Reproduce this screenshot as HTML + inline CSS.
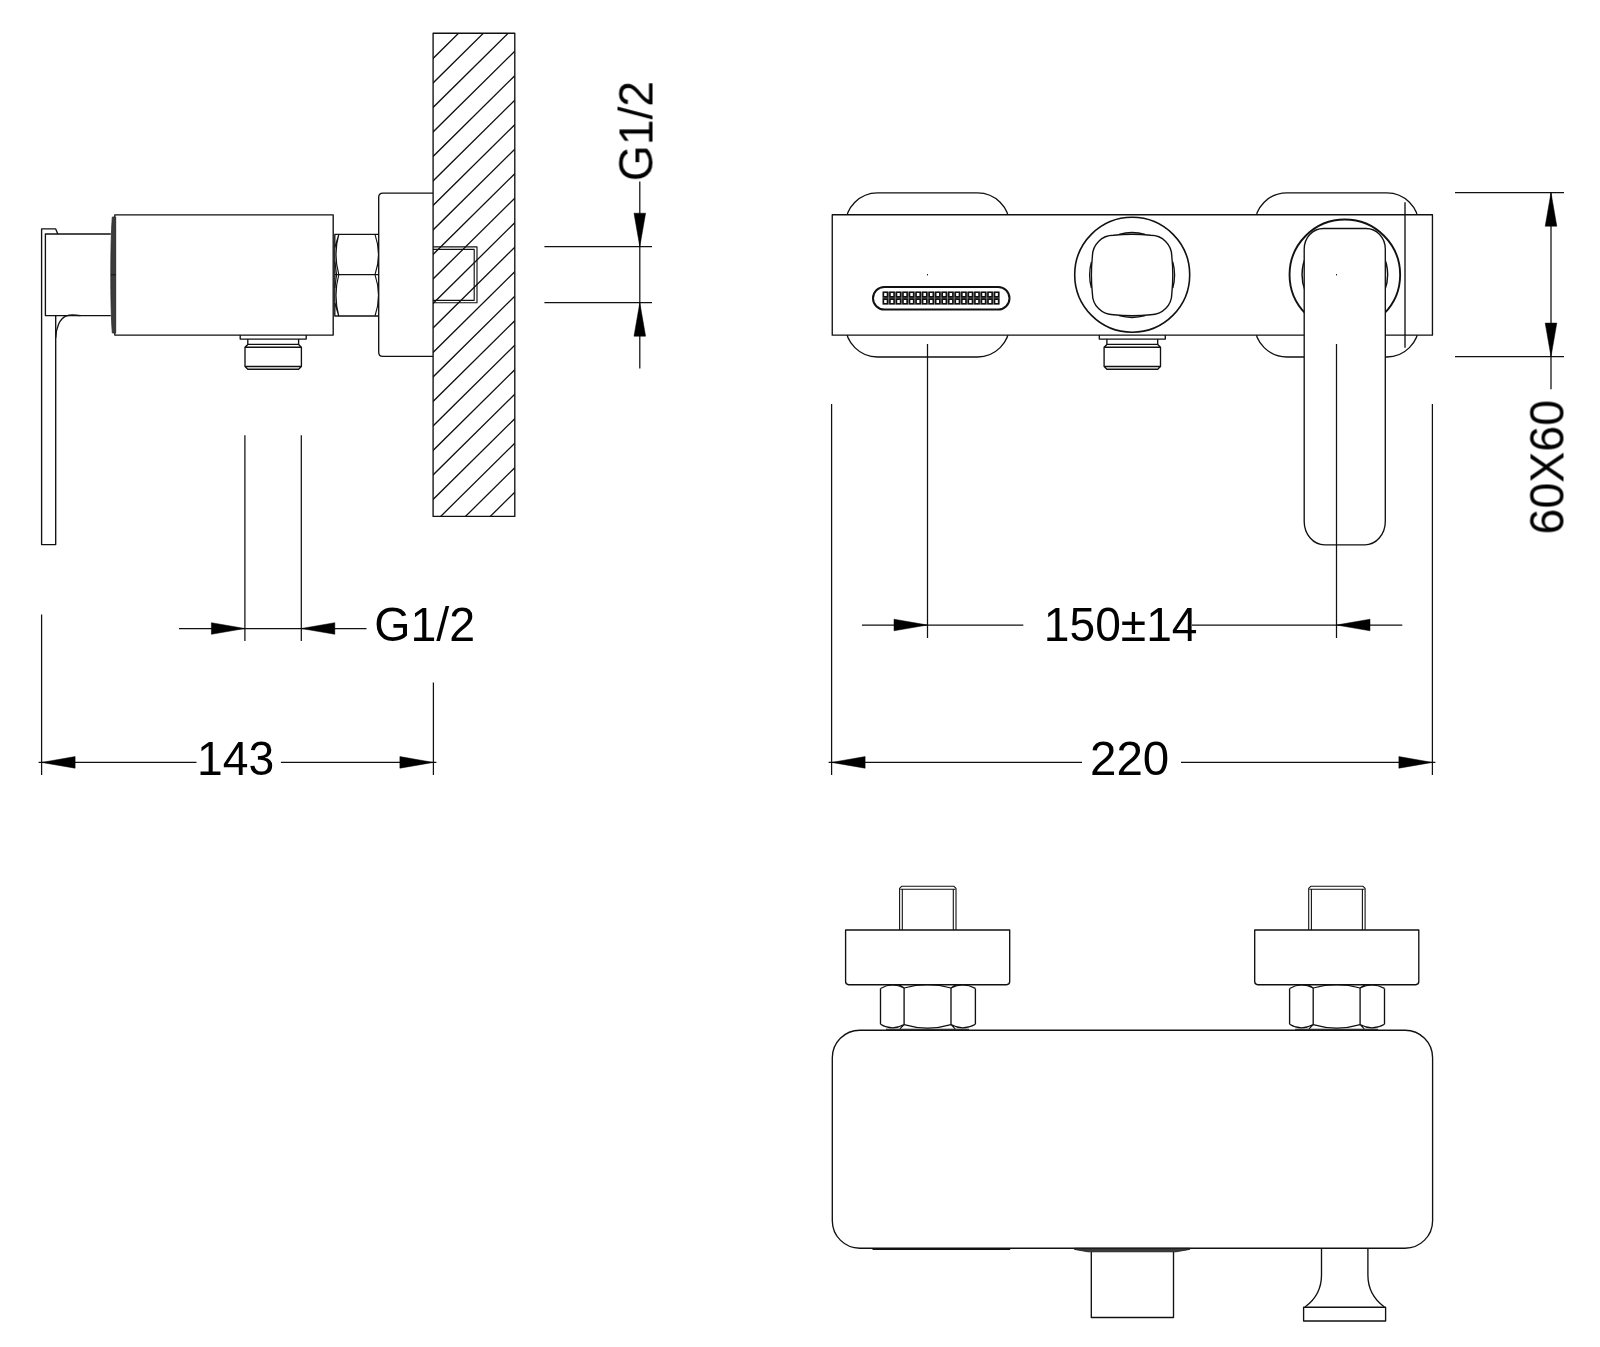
<!DOCTYPE html>
<html lang="en">
<head>
<meta charset="utf-8">
<title>Shower mixer - dimensional drawing</title>
<style>
html,body{margin:0;padding:0;background:#fff;}
body{width:1600px;height:1347px;overflow:hidden;font-family:"Liberation Sans",sans-serif;}
svg{display:block;}
.o{fill:none;stroke:#111;stroke-width:1.35;stroke-linejoin:round;stroke-linecap:butt;}
.o .t{stroke-width:1.15;}
.h{fill:none;stroke:#111;stroke-width:1.3;}
.d{fill:none;stroke:#111;stroke-width:1.25;}
.d .f{fill:#000;stroke:#000;stroke-width:0.5;stroke-linejoin:miter;}
.tx{opacity:0.999;}
.tx text{font-family:"Liberation Sans",sans-serif;font-size:48px;fill:#000;}
</style>
</head>
<body>
<svg width="1600" height="1347" viewBox="0 0 1600 1347">
<defs><clipPath id="wallclip"><rect x="433.1" y="33.2" width="81.70" height="483.20"/></clipPath></defs>
<rect x="0" y="0" width="1600" height="1347" fill="#fff"/>
<!-- side view -->
<g class="o">
<rect x="433.1" y="33.2" width="81.70" height="483.20"/>
</g>
<g class="h" clip-path="url(#wallclip)">
<path d="M431.10,60.38 L516.80,-24.30 M431.10,84.88 L516.80,0.20 M431.10,109.38 L516.80,24.70 M431.10,133.88 L516.80,49.20 M431.10,158.38 L516.80,73.70 M431.10,182.88 L516.80,98.20 M431.10,207.38 L516.80,122.70 M431.10,231.88 L516.80,147.20 M431.10,256.38 L516.80,171.70 M431.10,280.88 L516.80,196.20 M431.10,305.38 L516.80,220.70 M431.10,329.88 L516.80,245.20 M431.10,354.38 L516.80,269.70 M431.10,378.88 L516.80,294.20 M431.10,403.38 L516.80,318.70 M431.10,427.88 L516.80,343.20 M431.10,452.38 L516.80,367.70 M431.10,476.88 L516.80,392.20 M431.10,501.38 L516.80,416.70 M431.10,525.88 L516.80,441.20 M431.10,550.38 L516.80,465.70 M431.10,574.88 L516.80,490.20"/>
</g>
<g class="o">
<path class="t" d="M433.1,246.8 H477 V302.7 H433.1 M433.1,249.3 H474.2 V300.3 H433.1"/>
<path d="M433.1,193.1 H382.9 Q378.7,193.1 378.7,197.3 V352.2 Q378.7,356.4 382.9,356.4 H433.1"/>
<path d="M378.6,234.4 H334.8 V316 H378.6 M334.8,274.6 H378.6"/>
<path class="t" d="M338.8,234.4 Q333.2,254.5 338.8,274.6 Q333.2,295.3 338.8,316 M375,234.4 Q382,254.5 375,274.6 Q382,295.3 375,316 M338.8,234.4 L334.8,247.5 M338.8,316 L334.8,303 M334.8,261.5 L336.6,274.6 L334.8,288"/>
<rect x="114.8" y="214.85" width="218.4" height="120.2" fill="#fff"/>
<path d="M112.3,217 L115.7,217 L115.7,333 L112.3,333 C111.2,318 110.8,298 110.8,275 C110.8,252 111.2,232 112.3,217 Z" fill="#3c3c3c" stroke="#2a2a2a" stroke-width="0.8"/>
<path d="M110.9,274.8 H115.7" stroke-width="1"/>
<path d="M110.8,234 H45.4 V315.6 H110.8"/>
<path d="M57.8,234 L55.6,228.8 H41.6 V544.6 H55.7 V315.6"/>
<path d="M55.7,338 C56,328 59.5,318.5 66.3,315.8 C71,314.4 76,315 80.5,315.7"/>
<path d="M240.20,334.90 V339.10 H306.20 V334.90"/>
<path d="M247.80,339.10 V344.40 M298.60,339.10 V344.40"/>
<path d="M247.80,344.40 H298.60 L301.40,347.20 V366.50 L298.60,369.20 H247.80 L245.00,366.50 V347.20 Z M245.00,347.20 H301.40 M245.00,366.50 H301.40"/>
</g>
<g class="d">
<path d="M544.4,246.7 H652 M544.4,302.7 H652 M639.8,181.5 V368.6"/>
<path class="f" d="M639.80,246.70 L634.00,213.20 L645.60,213.20 Z"/>
<path class="f" d="M639.80,302.70 L645.60,336.20 L634.00,336.20 Z"/>
<path d="M244.9,435.2 V641 M301.3,435.2 V641 M179,628.5 H366.5"/>
<path class="f" d="M244.90,628.50 L211.40,634.30 L211.40,622.70 Z"/>
<path class="f" d="M301.30,628.50 L334.80,622.70 L334.80,634.30 Z"/>
<path d="M41.6,614.4 V775 M433.4,682.5 V775 M38.6,762.4 H196.5 M280.9,762.4 H436.4"/>
<path class="f" d="M41.60,762.40 L75.10,756.60 L75.10,768.20 Z"/>
<path class="f" d="M433.40,762.40 L399.90,768.20 L399.90,756.60 Z"/>
</g>
<!-- front view -->
<g class="o">
<rect x="845.5" y="192.8" width="164" height="164.2" rx="32" ry="32"/>
<rect x="1254.8" y="192.8" width="164" height="164.2" rx="32" ry="32"/>
<rect x="832.25" y="214.75" width="600.2" height="120.4" fill="#fff"/>
<path d="M1405,202.2 V347.8"/>
<rect x="873" y="287" width="136.5" height="22.6" rx="11.3" ry="11.3" stroke-width="2"/>
<rect x="882.6" y="291.7" width="117.1" height="12.9" fill="#8c8c8c" stroke="none"/>
<path d="M883.40,292.30 h4.1 v4.6 h-4.1 Z M889.94,292.30 h4.1 v4.6 h-4.1 Z M896.48,292.30 h4.1 v4.6 h-4.1 Z M903.01,292.30 h4.1 v4.6 h-4.1 Z M909.55,292.30 h4.1 v4.6 h-4.1 Z M916.09,292.30 h4.1 v4.6 h-4.1 Z M922.63,292.30 h4.1 v4.6 h-4.1 Z M929.17,292.30 h4.1 v4.6 h-4.1 Z M935.70,292.30 h4.1 v4.6 h-4.1 Z M942.24,292.30 h4.1 v4.6 h-4.1 Z M948.78,292.30 h4.1 v4.6 h-4.1 Z M955.32,292.30 h4.1 v4.6 h-4.1 Z M961.86,292.30 h4.1 v4.6 h-4.1 Z M968.39,292.30 h4.1 v4.6 h-4.1 Z M974.93,292.30 h4.1 v4.6 h-4.1 Z M981.47,292.30 h4.1 v4.6 h-4.1 Z M988.01,292.30 h4.1 v4.6 h-4.1 Z M994.55,292.30 h4.1 v4.6 h-4.1 Z M883.40,299.15 h4.1 v4.6 h-4.1 Z M889.94,299.15 h4.1 v4.6 h-4.1 Z M896.48,299.15 h4.1 v4.6 h-4.1 Z M903.01,299.15 h4.1 v4.6 h-4.1 Z M909.55,299.15 h4.1 v4.6 h-4.1 Z M916.09,299.15 h4.1 v4.6 h-4.1 Z M922.63,299.15 h4.1 v4.6 h-4.1 Z M929.17,299.15 h4.1 v4.6 h-4.1 Z M935.70,299.15 h4.1 v4.6 h-4.1 Z M942.24,299.15 h4.1 v4.6 h-4.1 Z M948.78,299.15 h4.1 v4.6 h-4.1 Z M955.32,299.15 h4.1 v4.6 h-4.1 Z M961.86,299.15 h4.1 v4.6 h-4.1 Z M968.39,299.15 h4.1 v4.6 h-4.1 Z M974.93,299.15 h4.1 v4.6 h-4.1 Z M981.47,299.15 h4.1 v4.6 h-4.1 Z M988.01,299.15 h4.1 v4.6 h-4.1 Z M994.55,299.15 h4.1 v4.6 h-4.1 Z" fill="#fff" stroke="#111" stroke-width="1.6" stroke-linejoin="miter"/>
<circle cx="1132.2" cy="274.75" r="57.5" stroke-width="1.6"/>
<path d="M1113.40,235.30 Q1132.10,233.30 1150.80,235.30 A21.0,21.0 0 0 1 1171.80,256.30 Q1173.80,275.00 1171.80,293.70 A21.0,21.0 0 0 1 1150.80,314.70 Q1132.10,316.70 1113.40,314.70 A21.0,21.0 0 0 1 1092.40,293.70 Q1090.40,275.00 1092.40,256.30 A21.0,21.0 0 0 1 1113.40,235.30 Z" stroke-width="1.4"/>
<path stroke-width="1.3" d="M1119.1,234.3 Q1132.1,230.7 1145.1,234.3 M1119.1,315.7 Q1132.1,319.3 1145.1,315.7 M1091.3999999999999,262.0 Q1087.8,275.0 1091.3999999999999,288.0 M1172.8,262.0 Q1176.3999999999999,275.0 1172.8,288.0"/>
<path d="M1099.30,334.90 V339.10 H1165.30 V334.90"/>
<path d="M1106.90,339.10 V344.40 M1157.70,339.10 V344.40"/>
<path d="M1106.90,344.40 H1157.70 L1160.50,347.20 V366.50 L1157.70,369.20 H1106.90 L1104.10,366.50 V347.20 Z M1104.10,347.20 H1160.50 M1104.10,366.50 H1160.50"/>
<circle cx="1344.85" cy="274.85" r="55.3" stroke-width="1.9"/>
<circle cx="1344.85" cy="274.85" r="42.8" stroke-width="1.5"/>
<path d="M1323.4,228.5 H1366.1 A19.2,20.5 0 0 1 1385.3,249 V521.5 A20.5,23.3 0 0 1 1364.8,544.8 H1324.7 A20.5,23.3 0 0 1 1304.2,521.5 V249 A19.2,20.5 0 0 1 1323.4,228.5 Z" fill="#fff"/>
<path d="M927.5,274.1 V275.4 M1336.5,274.1 V275.4" stroke-width="1"/>
</g>
<g class="d">
<path d="M927.5,344 V638 M1336.5,344 V638 M862,625 H1023.3 M1192,625 H1402.3"/>
<path class="f" d="M927.50,625.00 L894.00,630.80 L894.00,619.20 Z"/>
<path class="f" d="M1336.50,625.00 L1370.00,619.20 L1370.00,630.80 Z"/>
<path d="M831.6,404 V775 M1432.4,404 V775 M828.6,762.4 H1082 M1181,762.4 H1435.4"/>
<path class="f" d="M831.60,762.40 L865.10,756.60 L865.10,768.20 Z"/>
<path class="f" d="M1432.40,762.40 L1398.90,768.20 L1398.90,756.60 Z"/>
<path d="M1455,192.7 H1564 M1455,356.6 H1564 M1551,192.7 V389.2"/>
<path class="f" d="M1551.00,192.70 L1556.80,226.20 L1545.20,226.20 Z"/>
<path class="f" d="M1551.00,356.60 L1545.20,323.10 L1556.80,323.10 Z"/>
</g>
<!-- bottom view -->
<g class="o">
<g transform="translate(0,0)">
<path d="M899.6,930 V888.4 L901.6,886.3 H954 L956,888.4 V930 M902.3,930 V889.3 M953.3,930 V889.3 M900.4,889.3 H955.2" stroke-width="1.1"/>
<path d="M845.6,930 H1009.7 V981.6 Q1009.7,984.7 1006.6,984.7 H848.7 Q845.6,984.7 845.6,981.6 Z"/>
<path d="M880.5,988.4 V1024.2 M975.4,988.4 V1024.2 M904.1,988 V1024.6 M951,988 V1024.6"/>
<path stroke-width="1.2" d="M880.5,988.4 Q892.2,981.6 904.1,988 Q927.6,981.2 951,988 Q962.9,981.6 975.4,988.4 M880.5,1024.2 Q892.2,1031.4 904.1,1024.6 Q927.6,1031.6 951,1024.6 Q962.9,1031.4 975.4,1024.2 M904.1,988 L899.3,984.8 M951,988 L955.6,984.8 M904.1,1024.6 L899.9,1028.8 M951,1024.6 L955.2,1028.8"/>
<path class="t" d="M886,1029.2 H969"/>
</g>
<g transform="translate(409.1,0)">
<path d="M899.6,930 V888.4 L901.6,886.3 H954 L956,888.4 V930 M902.3,930 V889.3 M953.3,930 V889.3 M900.4,889.3 H955.2" stroke-width="1.1"/>
<path d="M845.6,930 H1009.7 V981.6 Q1009.7,984.7 1006.6,984.7 H848.7 Q845.6,984.7 845.6,981.6 Z"/>
<path d="M880.5,988.4 V1024.2 M975.4,988.4 V1024.2 M904.1,988 V1024.6 M951,988 V1024.6"/>
<path stroke-width="1.2" d="M880.5,988.4 Q892.2,981.6 904.1,988 Q927.6,981.2 951,988 Q962.9,981.6 975.4,988.4 M880.5,1024.2 Q892.2,1031.4 904.1,1024.6 Q927.6,1031.6 951,1024.6 Q962.9,1031.4 975.4,1024.2 M904.1,988 L899.3,984.8 M951,988 L955.6,984.8 M904.1,1024.6 L899.9,1028.8 M951,1024.6 L955.2,1028.8"/>
<path class="t" d="M886,1029.2 H969"/>
</g>
<rect x="832.3" y="1030.2" width="600.3" height="218" rx="27.5" ry="27.5" fill="#fff"/>
<path d="M872.5,1249.1 H1010.2" stroke-width="1.7"/>
<path d="M1074.4,1248.3 H1189.8 V1249.4 L1176,1251.8 H1088 L1074.4,1249.4 Z" fill="#3a3a3a" stroke-width="0.8"/>
<path d="M1091.3,1252 V1317.5 H1173.5 V1252"/>
<path d="M1321.5,1248.3 V1275 C1321.5,1288 1316,1299 1305,1307 M1367.9,1248.3 V1275 C1367.9,1288 1373.5,1299 1384.4,1307"/>
<rect x="1303.6" y="1307.2" width="82" height="13.8"/>
</g>
<g class="tx">
<text transform="translate(374.2,641.0) scale(0.970,1)">G1/2</text>
<text transform="translate(197.0,774.9) scale(0.963,1)">143</text>
<text transform="translate(1043.8,640.9) scale(0.962,1)">150±14</text>
<text transform="translate(1090.0,774.7) scale(0.990,1)">220</text>
<text transform="translate(652.5,181.2) rotate(-90) scale(0.963,1)">G1/2</text>
<text transform="translate(1563.5,534.5) rotate(-90) scale(0.970,1)">60X60</text>
</g>
</svg>
</body>
</html>
